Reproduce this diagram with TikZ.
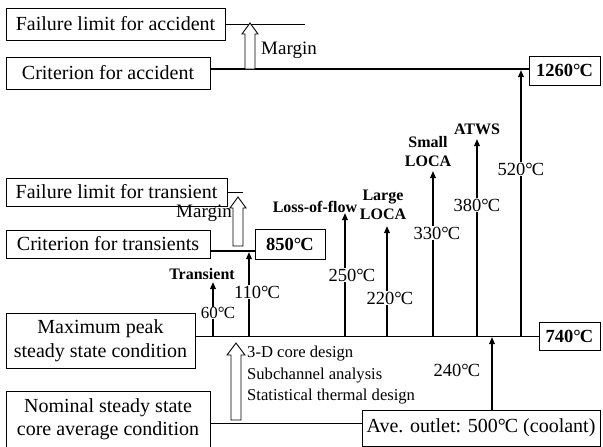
\documentclass[tikz,border=0pt]{standalone}
\usepackage{fontspec}
\setmainfont{Liberation Serif}
\usetikzlibrary{arrows.meta,calc}
\newcommand\dC{\textdegree\kern-0.05em C}
\begin{document}
\begin{tikzpicture}[x=1pt,y=-1pt,
 box/.style={draw, line width=0.9pt, inner sep=0pt, align=center, font=\fontsize{20}{23.5}\selectfont},
 bbox/.style={draw, line width=0.9pt, inner sep=0pt, font=\bfseries\fontsize{18.5}{22}\selectfont},
 tlab/.style={fill=white, inner sep=0.6pt, font=\fontsize{18.5}{22}\selectfont},
 blab/.style={inner sep=0pt, align=center, font=\bfseries\fontsize{16}{19}\selectfont},
 sarr/.style={line width=1.6pt, -{Triangle[length=7pt,width=5.5pt]}},
 hollow/.style={draw, line width=0.9pt, fill=white, line join=miter},
]
\useasboundingbox (0,0) rectangle (603,447);

% level coordinates
\coordinate (yacc) at (0,69);
\coordinate (yct) at (0,251);
\coordinate (y740) at (0,336);
\coordinate (ynom) at (0,423);

% boxes
\node[box, minimum width=219pt, minimum height=32pt] (fla) at (115.5,24) {Failure limit for accident};
\node[box, minimum width=204pt, minimum height=32pt] (cfa) at (108,73) {Criterion for accident};
\node[bbox, minimum width=71pt, minimum height=29pt] (b1260) at (564.5,70.5) {1260\dC};
\node[box, minimum width=221pt, minimum height=28pt] (flt) at (116.5,192) {Failure limit for transient};
\node[box, minimum width=204pt, minimum height=28pt] (cft) at (108,244) {Criterion for transients};
\node[bbox, minimum width=70pt, minimum height=30pt] (b850) at (290,244) {850\dC};
\node[box, minimum width=189pt, minimum height=55pt] (mp) at (100.5,340.5) {Maximum peak\\steady state condition};
\node[bbox, minimum width=61pt, minimum height=28pt] (b740) at (569.5,336) {740\dC};
\node[box, minimum width=204pt, minimum height=56pt] (nom) at (108,419) {Nominal steady state\\core average condition};
\node[box, minimum width=238pt, minimum height=36pt] (ave) at (481,428) {Ave. outlet: 500\dC\ (coolant)};

% level lines
\draw[line width=0.9pt] (fla.east) -- ++(80,0) coordinate (flaend);
\draw[line width=2.4pt] (cfa.east |- yacc) -- (b1260.west |- yacc);
\draw[line width=0.9pt] (flt.east) -- ++(16,0) coordinate (fltend);
\draw[line width=1.4pt] (cft.east |- yct) -- (b850.west |- yct);
\draw[line width=1pt] (mp.east |- y740) -- (b740.west |- y740);
\draw[line width=0.8pt] (nom.east |- ynom) -- (ave.west |- ynom);

% hollow margin arrows
\draw[hollow] (245,69) -- (245,34) -- (242,34) -- (250,23) -- (258,34) -- (255,34) -- (255,69) -- cycle;
\node[anchor=west, inner sep=0pt, font=\fontsize{19}{22}\selectfont] (m1) at (261,50) {Margin};
\draw[hollow] (233,246) -- (233,208) -- (230,208) -- (238,197) -- (246,208) -- (243,208) -- (243,246) -- cycle;
\node[anchor=east, inner sep=0pt, font=\fontsize{19}{22}\selectfont] (m2) at (232,213) {Margin};
\draw[hollow] (231,420) -- (231,355) -- (227,355) -- (236,343) -- (245,355) -- (241,355) -- (241,420) -- cycle;
\node[anchor=north west, inner sep=0pt, align=left, font=\fontsize{16.6}{21.5}\selectfont] (dz) at (247,346) {3-D core design\\Subchannel analysis\\Statistical thermal design};

% event arrows
\coordinate (a60b) at (213,336); \coordinate (a60t) at (213,282);
\draw[sarr] (a60b) -- (a60t);
\node[tlab, font=\fontsize{17}{20}\selectfont] (l60) at (218,313) {60\dC};
\node[blab] (ltr) at (202,274) {Transient};

\coordinate (a110b) at (249,336); \coordinate (a110t) at (249,252);
\draw[sarr] (a110b) -- (a110t);
\node[tlab] (l110) at (257,292) {110\dC};

\coordinate (alfb) at (345,336); \coordinate (alft) at (345,213);
\draw[sarr] (alfb) -- (alft);
\node[tlab] (l250) at (352,275) {250\dC};
\node[blab] (llf) at (315,207) {Loss-of-flow};

\coordinate (allb) at (387,336); \coordinate (allt) at (387,226);
\draw[sarr] (allb) -- (allt);
\node[tlab] (l220) at (390,298) {220\dC};
\node[blab] (lll) at (383,205) {Large\\LOCA};

\coordinate (aslb) at (433,336); \coordinate (aslt) at (433,171);
\draw[sarr] (aslb) -- (aslt);
\node[tlab] (l330) at (437,233) {330\dC};
\node[blab] (lsl) at (428,152) {Small\\LOCA};

\coordinate (aatb) at (477,336); \coordinate (aatt) at (477,139);
\draw[sarr] (aatb) -- (aatt);
\node[tlab] (l380) at (477,205) {380\dC};
\node[blab] (lat) at (477,129) {ATWS};

\coordinate (a520b) at (521,336); \coordinate (a520t) at (521,70);
\draw[sarr] (a520b) -- (a520t);
\node[tlab] (l520) at (521,169) {520\dC};

\coordinate (a240t) at (492,337);
\draw[sarr] (ave.north -| a240t) -- (a240t);
\node[inner sep=0pt, font=\fontsize{18.5}{22}\selectfont] (l240) at (457,370) {240\dC};
\end{tikzpicture}
\end{document}
